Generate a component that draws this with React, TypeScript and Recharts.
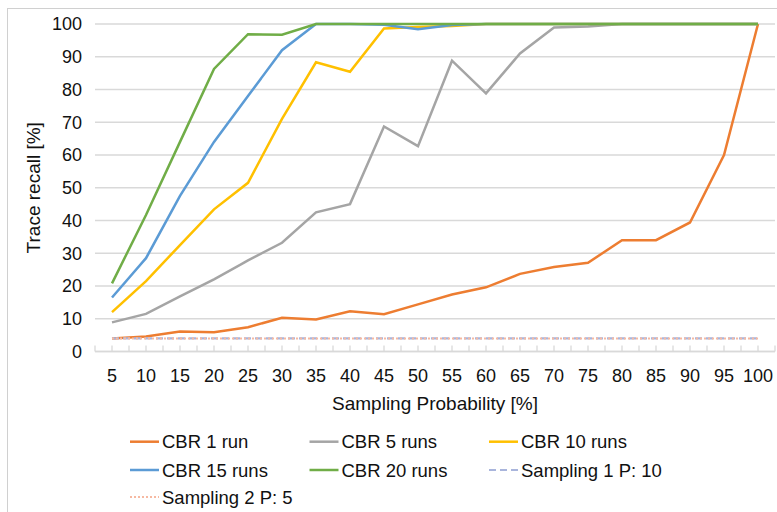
import { LineChart, Line, XAxis, YAxis, CartesianGrid } from "recharts"

const categories = [5, 10, 15, 20, 25, 30, 35, 40, 45, 50, 55, 60, 65, 70, 75, 80, 85, 90, 95, 100]

const cbr1Run = [4, 4.6, 6.1, 5.9, 7.4, 10.3, 9.8, 12.3, 11.4, 14.4, 17.4, 19.6, 23.7, 25.8, 27.1, 34, 34, 39.4, 60, 100]
const cbr5Runs = [8.9, 11.5, 16.8, 22, 27.8, 33.2, 42.5, 45, 68.7, 62.7, 88.8, 78.8, 91, 98.9, 99.2, 100, 100, 100, 100, 100]
const cbr10Runs = [12, 21.5, 32.5, 43.4, 51.5, 71, 88.3, 85.4, 98.6, 99.1, 99.4, 100, 100, 100, 100, 100, 100, 100, 100, 100]
const cbr15Runs = [16.5, 28.5, 47.5, 64, 78, 92, 100, 100, 99.8, 98.4, 99.7, 100, 100, 100, 100, 100, 100, 100, 100, 100]
const cbr20Runs = [20.8, 41.7, 64, 86.3, 96.9, 96.7, 100, 100, 100, 100, 100, 100, 100, 100, 100, 100, 100, 100, 100, 100]
const sampling1P10 = [4, 4, 4, 4, 4, 4, 4, 4, 4, 4, 4, 4, 4, 4, 4, 4, 4, 4, 4, 4]
const sampling2P5 = [4, 4, 4, 4, 4, 4, 4, 4, 4, 4, 4, 4, 4, 4, 4, 4, 4, 4, 4, 4]

const yTicks = [0, 10, 20, 30, 40, 50, 60, 70, 80, 90, 100]

const series = [
  { key: "cbr1", name: "CBR 1 run", values: cbr1Run, color: "#ED7D31", dash: undefined, width: 2.5 },
  { key: "cbr5", name: "CBR 5 runs", values: cbr5Runs, color: "#A5A5A5", dash: undefined, width: 2.5 },
  { key: "cbr10", name: "CBR 10 runs", values: cbr10Runs, color: "#FFC000", dash: undefined, width: 2.5 },
  { key: "cbr15", name: "CBR 15 runs", values: cbr15Runs, color: "#5B9BD5", dash: undefined, width: 2.5 },
  { key: "cbr20", name: "CBR 20 runs", values: cbr20Runs, color: "#70AD47", dash: undefined, width: 2.5 },
  { key: "samp1", name: "Sampling 1 P: 10", values: sampling1P10, color: "#A9B5DC", dash: "7 4", width: 2.2 },
  { key: "samp2", name: "Sampling 2 P: 5", values: sampling2P5, color: "#F6B9A2", dash: "2 2", width: 2 },
]

// tick marks sit both on each category and halfway between categories
const xTicks = categories.flatMap((c) => [c - 2.5, c]).concat(102.5)

const data = categories.map((c, i) => {
  const row: Record<string, number> = { x: c }
  series.forEach((s) => {
    row[s.key] = s.values[i]
  })
  return row
})

const FONT = '"Liberation Sans", Arial, Helvetica, sans-serif'
const GRID = "#d9d9d9"

function LegendBox() {
  const colX = [154, 333.5, 513]
  const rowY = [12.7, 41, 68]
  return (
    <svg width={769} height={84} style={{ position: "absolute", left: 0, top: 420 }}>
      {series.map((s, i) => {
        const col = i % 3
        const row = Math.floor(i / 3)
        const tx = colX[col]
        const ty = rowY[row]
        return (
          <g key={s.key}>
            <line
              x1={tx - 32}
              x2={tx - 3}
              y1={ty}
              y2={ty}
              stroke={s.color}
              strokeWidth={s.width}
              strokeDasharray={s.dash}
            />
            <text x={tx} y={ty} dominantBaseline="central" fontSize={18.5} fill="#111">
              {s.name}
            </text>
          </g>
        )
      })}
    </svg>
  )
}

export default function App() {
  return (
    <div
      style={{
        position: "fixed",
        left: 7,
        top: 8,
        width: 770,
        height: 504,
        borderTop: "1px solid #d0d0d0",
        borderLeft: "1px solid #d0d0d0",
        boxSizing: "border-box",
        overflow: "hidden",
        background: "#fff",
        fontFamily: FONT,
      }}
    >
      <LineChart width={769} height={420} data={data} margin={{ top: 15, right: 2, left: 0, bottom: 0 }}>
        <CartesianGrid vertical={false} stroke={GRID} strokeWidth={1.3} />
        <XAxis
          dataKey="x"
          type="number"
          domain={[2.5, 102.5]}
          ticks={xTicks}
          interval={0}
          height={77.5}
          tickFormatter={(v: number) => (v % 5 === 0 ? String(v) : "")}
          tick={{ fontSize: 18, fill: "#111" }}
          tickSize={-6}
          tickMargin={23.5}
          tickLine={{ stroke: GRID, strokeWidth: 1.3 }}
          axisLine={{ stroke: GRID, strokeWidth: 1.3 }}
          label={({ viewBox }: any) => (
            <text
              x={viewBox.x + viewBox.width / 2}
              y={viewBox.y + 51.5}
              textAnchor="middle"
              dominantBaseline="central"
              fontSize={19}
              fill="#111"
            >
              Sampling Probability [%]
            </text>
          )}
        />
        <YAxis
          type="number"
          domain={[0, 100]}
          ticks={yTicks}
          interval={0}
          width={87}
          tickSize={0}
          tickMargin={13}
          tickLine={false}
          axisLine={false}
          tick={{ fontSize: 18, fill: "#111" }}
          label={({ viewBox }: any) => {
            const cx = viewBox.x + 25
            const cy = viewBox.y + viewBox.height / 2
            return (
              <text
                x={cx}
                y={cy}
                transform={`rotate(-90 ${cx} ${cy})`}
                textAnchor="middle"
                dominantBaseline="central"
                fontSize={19}
                fill="#111"
              >
                Trace recall [%]
              </text>
            )
          }}
        />
        {series.map((s) => (
          <Line
            key={s.key}
            type="linear"
            dataKey={s.key}
            name={s.name}
            stroke={s.color}
            strokeWidth={s.width}
            strokeDasharray={s.dash}
            dot={false}
            activeDot={false}
            isAnimationActive={false}
          />
        ))}
      </LineChart>
      <LegendBox />
    </div>
  )
}
